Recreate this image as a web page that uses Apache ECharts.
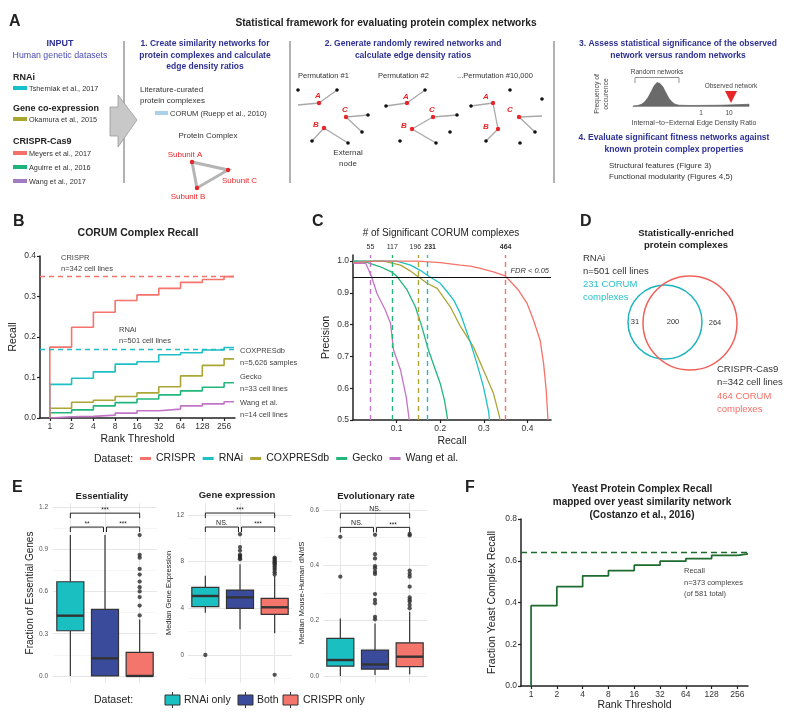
<!DOCTYPE html>
<html><head><meta charset="utf-8">
<script src="https://cdn.jsdelivr.net/npm/echarts@6/dist/echarts.min.js"></script>
<style>html,body{margin:0;padding:0;background:#fff}#c{width:800px;height:724px}</style>
</head><body><div id="c"></div>
<script>
const FF = '"Liberation Sans", Arial, Helvetica, sans-serif';

// ---------- Panel B : CORUM complex recall ----------
const datasetNames = ['CRISPR', 'RNAi', 'COXPRESdb', 'Gecko', 'Wang et al.'];
const datasetColors = ['#F4736B', '#1EBFC7', '#ABA635', '#22B57C', '#C274C6'];
const rankThresholds = [1, 2, 4, 8, 16, 32, 64, 128, 256];
const rankEnd = 350;
const recallCRISPR = [0.175, 0.224, 0.261, 0.290, 0.304, 0.320, 0.335, 0.342, 0.349];
const recallRNAi = [0.083, 0.098, 0.114, 0.133, 0.139, 0.156, 0.161, 0.168, 0.174];
const recallCOXPRES = [0.024, 0.039, 0.044, 0.053, 0.062, 0.077, 0.104, 0.130, 0.146];
const recallGecko = [0.013, 0.020, 0.030, 0.038, 0.047, 0.057, 0.067, 0.076, 0.087];
const recallWang = [0.003, 0.004, 0.007, 0.012, 0.018, 0.022, 0.030, 0.035, 0.040];
const recallAsymptote = [0.349, 0.174];
const rankTickExps = [0, 1, 2, 3, 4, 5, 6, 7, 8];

// ---------- Panel C : precision / recall ----------
const prCRISPR = [[0, 0.995], [0.05, 1.0], [0.15, 1.0], [0.2, 0.995], [0.246, 0.987], [0.269, 0.984], [0.292, 0.977], [0.322, 0.966], [0.349, 0.953], [0.365, 0.93], [0.379, 0.909], [0.399, 0.867], [0.414, 0.814], [0.429, 0.751], [0.437, 0.678], [0.443, 0.594], [0.446, 0.526], [0.447, 0.5]];
const prRNAi = [[0, 1.0], [0.1, 1.0], [0.132, 0.987], [0.155, 0.97], [0.173, 0.953], [0.2, 0.93], [0.215, 0.905], [0.231, 0.877], [0.246, 0.836], [0.269, 0.745], [0.284, 0.678], [0.299, 0.605], [0.311, 0.526], [0.313, 0.5]];
const prCOXPRES = [[0, 1.0], [0.07, 1.0], [0.109, 0.987], [0.13, 0.97], [0.147, 0.953], [0.17, 0.93], [0.193, 0.914], [0.223, 0.856], [0.246, 0.795], [0.269, 0.746], [0.276, 0.73], [0.299, 0.657], [0.322, 0.584], [0.336, 0.51], [0.337, 0.5]];
const prGecko = [[0, 1.0], [0.032, 0.996], [0.063, 0.982], [0.088, 0.966], [0.101, 0.951], [0.124, 0.909], [0.143, 0.856], [0.158, 0.793], [0.173, 0.72], [0.185, 0.673], [0.2, 0.615], [0.21, 0.56], [0.216, 0.51], [0.217, 0.5]];
const prWang = [[0, 0.993], [0.029, 0.993], [0.036, 0.972], [0.042, 0.953], [0.055, 0.898], [0.074, 0.846], [0.086, 0.804], [0.093, 0.72], [0.109, 0.657], [0.122, 0.573], [0.128, 0.51], [0.129, 0.5]];
const fdrRecall = [0.349, 0.173, 0.147, 0.088, 0.042];
const sigCounts = ['464', '231', '196', '117', '55'];
const fdrPrecision = 0.95;
const recallTicks = [0.1, 0.2, 0.3, 0.4];
const precisionTicks = [0.5, 0.6, 0.7, 0.8, 0.9, 1.0];

// ---------- Panel E : box plots ----------
const boxGroups = ['RNAi only', 'Both', 'CRISPR only'];
const boxColors = ['#1ABFC2', '#3A4B9C', '#F4756C'];
const essBox = [[0, 0.321, 0.428, 0.669, 1.0], [0, 0, 0.125, 0.473, 1.0], [0, 0, 0, 0.168, 0.40]];
const essOutliers = [[], [], [1.0, 0.86, 0.84, 0.76, 0.72, 0.67, 0.63, 0.6, 0.56, 0.5, 0.43]];
const essMajor = [0, 0.3, 0.6, 0.9, 1.2];
const essMinor = [0.15, 0.45, 0.75, 1.05];
const essBrackets = [[0, 2, 1.156], [0, 1, 1.057], [1, 2, 1.057]];
const essLabels = ['***', '**', '***'];

const exprBox = [[3.63, 4.14, 5.06, 5.80, 6.8], [2.2, 4.0, 4.94, 5.57, 7.77], [1.86, 3.49, 4.09, 4.86, 6.77]];
const exprOutliers = [[0], [10.35, 9.25, 8.95, 8.6, 8.5, 8.4, 8.3, 8.2], [8.35, 8.25, 8.15, 8.05, 7.95, 7.85, 7.75, 7.6, 7.45, 7.3, 7.1, 6.9, -1.7]];
const exprMajor = [0, 4, 8, 12];
const exprMinor = [-2, 2, 6, 10];
const exprBrackets = [[0, 2, 12.17], [0, 1, 10.97], [1, 2, 10.97]];
const exprLabels = ['***', 'NS.', '***'];

const evoBox = [[0, 0.036, 0.058, 0.136, 0.208], [0.004, 0.025, 0.042, 0.094, 0.19], [0.007, 0.034, 0.070, 0.120, 0.232]];
const evoOutliers = [[0.359, 0.503], [0.51, 0.44, 0.425, 0.397, 0.389, 0.377, 0.369, 0.296, 0.275, 0.263, 0.214, 0.205], [0.513, 0.508, 0.381, 0.369, 0.359, 0.323, 0.284, 0.276, 0.269, 0.257, 0.245]];
const evoMajor = [0, 0.2, 0.4, 0.6];
const evoMinor = [0.1, 0.3, 0.5];
const evoBrackets = [[0, 2, 0.588], [0, 1, 0.537], [1, 2, 0.537]];
const evoLabels = ['NS.', 'NS.', '***'];

// ---------- Panel F : yeast recall ----------
const yeastRanks = [1, 2, 4, 8, 16, 32, 64, 128, 256];
const yeastRecall = [0.385, 0.476, 0.528, 0.553, 0.579, 0.598, 0.610, 0.626, 0.633];
const yeastRankEnd = 340;
const yeastAsymptote = 0.635;
const yeastTicks = [0, 0.2, 0.4, 0.6, 0.8];

// ---------- Venn (panel D) ----------
const vennCounts = ['31', '200', '264'];

// ================= build =================
const chart = echarts.init(document.getElementById('c'), null, {renderer: 'canvas'});
const G = [];
function T(x, y, text, o) {
  o = o || {};
  G.push({type: 'text', x: x, y: y, z: 100, rotation: o.rot || 0, silent: true,
    style: {text: text, fill: o.color || '#222', fontSize: o.size || 8,
      fontWeight: o.bold ? 'bold' : 'normal', fontStyle: o.italic ? 'italic' : 'normal',
      fontFamily: FF, textAlign: o.align || 'left', align: o.align || 'left',
      textVerticalAlign: 'middle', verticalAlign: 'middle'}});
}
function PL(pts, stroke, w) { G.push({type: 'polyline', z: 90, silent: true, shape: {points: pts}, style: {stroke: stroke, lineWidth: w || 1, fill: 'none'}}); }
function CI(cx, cy, r, fill, stroke, w) { G.push({type: 'circle', z: 95, silent: true, shape: {cx: cx, cy: cy, r: r}, style: {fill: fill || 'none', stroke: stroke || 'none', lineWidth: w || 1}}); }
function PG(pts, fill, stroke, w) { G.push({type: 'polygon', z: 90, silent: true, shape: {points: pts}, style: {fill: fill, stroke: stroke || 'none', lineWidth: w || 1}}); }
function RC(x, y, w, h, fill, stroke) { G.push({type: 'rect', z: 95, silent: true, shape: {x: x, y: y, width: w, height: h}, style: {fill: fill, stroke: stroke || 'none', lineWidth: 1}}); }

const BLUE = '#2E3192', RED = '#E8262A';
// ---- Panel A ----
T(9, 22, 'A', {size: 16, bold: true});
T(386, 23, 'Statistical framework for evaluating protein complex networks', {size: 10.2, bold: true, align: 'center'});
[124, 290, 554].forEach(x => PL([[x, 41], [x, 183]], '#666', 1));
T(60, 44, 'INPUT', {size: 9, bold: true, color: BLUE, align: 'center'});
T(60, 56, 'Human genetic datasets', {size: 8.8, color: '#4B4BB3', align: 'center'});
T(13, 78, 'RNAi', {size: 9, bold: true});
RC(13, 86, 14, 4, '#16C0C8'); T(29, 89, 'Tsherniak et al., 2017', {size: 7.3, color: '#333'});
T(13, 109, 'Gene co-expression', {size: 9, bold: true});
RC(13, 117, 14, 4, '#A8A830'); T(29, 120, 'Okamura et al., 2015', {size: 7.3, color: '#333'});
T(13, 142, 'CRISPR-Cas9', {size: 9, bold: true});
RC(13, 151, 14, 4, '#F4706A'); T(29, 154, 'Meyers et al., 2017', {size: 7.3, color: '#333'});
RC(13, 165, 14, 4, '#1DB37A'); T(29, 168, 'Aguirre et al., 2016', {size: 7.3, color: '#333'});
RC(13, 179, 14, 4, '#A27CC2'); T(29, 182, 'Wang et al., 2017', {size: 7.3, color: '#333'});
PG([[110, 107], [118, 107], [118, 95], [137, 120], [118, 147], [118, 136], [110, 136]], '#C8C8C8', '#9A9A9A', 0.8);

T(205, 44, '1. Create similarity networks for', {size: 8.5, bold: true, color: BLUE, align: 'center'});
T(205, 56, 'protein complexes and calculate', {size: 8.5, bold: true, color: BLUE, align: 'center'});
T(205, 67, 'edge density ratios', {size: 8.5, bold: true, color: BLUE, align: 'center'});
T(140, 90, 'Literature-curated', {size: 8, color: '#333'});
T(140, 101, 'protein complexes', {size: 8, color: '#333'});
RC(155, 111, 13, 4, '#A9D1EA'); T(170, 114, 'CORUM (Ruepp et al., 2010)', {size: 7.5, color: '#333'});
T(208, 136, 'Protein Complex', {size: 8, color: '#333', align: 'center'});
PL([[192, 162], [228, 170], [197, 188], [192, 162]], '#B5B5B5', 3);
[[192, 162], [228, 170], [197, 188]].forEach(p => CI(p[0], p[1], 2.2, RED));
T(185, 155, 'Subunit A', {size: 8, color: RED, align: 'center'});
T(222, 181, 'Subunit C', {size: 8, color: RED});
T(188, 197, 'Subunit B', {size: 8, color: RED, align: 'center'});

T(413, 44, '2. Generate randomly rewired networks and', {size: 8.5, bold: true, color: BLUE, align: 'center'});
T(413, 56, 'calculate edge density ratios', {size: 8.5, bold: true, color: BLUE, align: 'center'});
T(298, 76, 'Permutation #1', {size: 7.5, color: '#333'});
T(378, 76, 'Permutation #2', {size: 7.5, color: '#333'});
T(457, 76, '...Permutation #10,000', {size: 7.5, color: '#333'});
const perms = [
  {edges: [[[298, 105], [319, 103]], [[319, 103], [337, 90]], [[346, 117], [368, 115]], [[346, 117], [362, 132]], [[324, 128], [312, 141]], [[324, 128], [348, 143]]],
   black: [[298, 90], [337, 90], [368, 115], [362, 132], [312, 141], [348, 143]],
   red: [[319, 103], [346, 117], [324, 128]], lab: [['A', 318, 96], ['C', 345, 110], ['B', 316, 125]]},
  {edges: [[[386, 106], [407, 103]], [[407, 103], [425, 90]], [[412, 129], [433, 117]], [[433, 117], [457, 115]], [[412, 129], [436, 143]]],
   black: [[386, 106], [425, 90], [457, 115], [436, 143], [450, 132], [400, 141]],
   red: [[407, 103], [433, 117], [412, 129]], lab: [['A', 406, 97], ['C', 432, 110], ['B', 404, 126]]},
  {edges: [[[471, 106], [493, 103]], [[493, 103], [498, 129]], [[498, 129], [486, 141]], [[519, 117], [542, 116]], [[519, 117], [535, 132]]],
   black: [[471, 106], [486, 141], [510, 90], [542, 99], [535, 132], [520, 143]],
   red: [[493, 103], [498, 129], [519, 117]], lab: [['A', 486, 97], ['B', 486, 127], ['C', 510, 110]]}
];
perms.forEach(pm => {
  pm.edges.forEach(e => PL(e, '#A8A8A8', 1.3));
  pm.black.forEach(p => CI(p[0], p[1], 1.8, '#111'));
  pm.red.forEach(p => CI(p[0], p[1], 2.2, RED));
  pm.lab.forEach(l => T(l[1], l[2], l[0], {size: 8, italic: true, bold: true, color: RED, align: 'center'}));
});
T(348, 153, 'External', {size: 8, color: '#333', align: 'center'});
T(348, 164, 'node', {size: 8, color: '#333', align: 'center'});

T(678, 44, '3. Assess statistical significance of the observed', {size: 8.5, bold: true, color: BLUE, align: 'center'});
T(678, 56, 'network versus random networks', {size: 8.5, bold: true, color: BLUE, align: 'center'});
T(597, 94, 'Frequency of', {size: 6.8, color: '#444', align: 'center', rot: Math.PI / 2});
T(606, 94, 'occurence', {size: 6.8, color: '#444', align: 'center', rot: Math.PI / 2});
PG([[633, 106], [638, 105.5], [642, 104], [645, 101.5], [648, 97.5], [651, 92], [654, 86], [657, 82.5], [660, 83.5], [663, 87], [666, 93], [669, 98.5], [672, 102], [675, 104.2], [679, 105.2], [690, 105.5], [720, 105.2], [740, 104.6], [749, 104.2], [749, 106.3], [633, 106.3]], '#6A6A6A', '#555', 0.6);
T(657, 72, 'Random networks', {size: 6.5, color: '#444', align: 'center'});
PL([[635, 83], [635, 77.5], [679, 77.5], [679, 83]], '#888', 0.9);
T(731, 86, 'Observed network', {size: 6.5, color: '#444', align: 'center'});
PG([[725, 91], [737, 91], [731, 103]], RED);
T(701, 113, '1', {size: 6.5, color: '#444', align: 'center'});
T(729, 113, '10', {size: 6.5, color: '#444', align: 'center'});
T(694, 123, 'Internal\u2212to\u2212External Edge Density Ratio', {size: 7, color: '#444', align: 'center'});
T(674, 138, '4. Evaluate significant fitness networks against', {size: 8.5, bold: true, color: BLUE, align: 'center'});
T(674, 150, 'known protein complex properties', {size: 8.5, bold: true, color: BLUE, align: 'center'});
T(609, 166, 'Structural features (Figure 3)', {size: 8, color: '#333'});
T(609, 177, 'Functional modularity (Figures 4,5)', {size: 8, color: '#333'});

// ---- Panel B texts ----
T(13, 222, 'B', {size: 16, bold: true});
T(138, 233, 'CORUM Complex Recall', {size: 10.5, bold: true, align: 'center'});
T(61, 258, 'CRISPR', {size: 7.5, color: '#444'}); T(61, 269, 'n=342 cell lines', {size: 7.5, color: '#444'});
T(119, 330, 'RNAi', {size: 7.5, color: '#444'}); T(119, 341, 'n=501 cell lines', {size: 7.5, color: '#444'});
T(240, 351, 'COXPRESdb', {size: 7.5, color: '#444'}); T(240, 363, 'n=5,626 samples', {size: 7.5, color: '#444'});
T(240, 377, 'Gecko', {size: 7.5, color: '#444'}); T(240, 389, 'n=33 cell lines', {size: 7.5, color: '#444'});
T(240, 403, 'Wang et al.', {size: 7.5, color: '#444'}); T(240, 415, 'n=14 cell lines', {size: 7.5, color: '#444'});
// ---- Panel C texts ----
T(312, 222, 'C', {size: 16, bold: true});
T(441, 233, '# of Significant CORUM complexes', {size: 10, color: '#222', align: 'center'});
T(94, 459, 'Dataset:', {size: 10.5, color: '#222'});
// ---- Panel D ----
T(580, 222, 'D', {size: 16, bold: true});
T(686, 233, 'Statistically-enriched', {size: 9.5, bold: true, align: 'center'});
T(686, 245, 'protein complexes', {size: 9.5, bold: true, align: 'center'});
T(583, 258, 'RNAi', {size: 9.5, color: '#333'});
T(583, 271, 'n=501 cell lines', {size: 9.5, color: '#333'});
T(583, 284, '231 CORUM', {size: 9.5, color: '#2CC0C8'});
T(583, 297, 'complexes', {size: 9.5, color: '#2CC0C8'});
CI(665, 322, 37, 'none', '#1CB5BF', 1.5);
CI(690, 323, 47, 'none', '#F0605A', 1.5);
T(635, 322, vennCounts[0], {size: 7.5, color: '#333', align: 'center'});
T(673, 322, vennCounts[1], {size: 7.5, color: '#333', align: 'center'});
T(715, 323, vennCounts[2], {size: 7.5, color: '#333', align: 'center'});
T(717, 369, 'CRISPR-Cas9', {size: 9.5, color: '#333'});
T(717, 382, 'n=342 cell lines', {size: 9.5, color: '#333'});
T(717, 396, '464 CORUM', {size: 9.5, color: '#F27068'});
T(717, 409, 'complexes', {size: 9.5, color: '#F27068'});
// ---- Panel E texts ----
T(12, 488, 'E', {size: 16, bold: true});
T(102, 496, 'Essentiality', {size: 9.5, bold: true, align: 'center'});
T(237, 495, 'Gene expression', {size: 9.5, bold: true, align: 'center'});
T(376, 496, 'Evolutionary rate', {size: 9.5, bold: true, align: 'center'});
T(94, 700, 'Dataset:', {size: 10.5, color: '#222'});
[[165, 184, 0], [238, 257, 1], [283, 303, 2]].forEach(a => {
  PL([[a[0] + 7.5, 692], [a[0] + 7.5, 708]], '#333', 1);
  RC(a[0], 695, 15, 10, boxColors[a[2]], '#333');
  PL([[a[0], 700], [a[0] + 15, 700]], '#333', 1.6);
  T(a[1], 700, boxGroups[a[2]], {size: 10.5, color: '#222'});
});
// ---- Panel F texts ----
T(465, 488, 'F', {size: 16, bold: true});
T(642, 489, 'Yeast Protein Complex Recall', {size: 10, bold: true, align: 'center'});
T(642, 502, 'mapped over yeast similarity network', {size: 10, bold: true, align: 'center'});
T(642, 515, '(Costanzo et al., 2016)', {size: 10, bold: true, align: 'center'});
T(684, 571, 'Recall', {size: 7.5, color: '#444'});
T(684, 583, 'n=373 complexes', {size: 7.5, color: '#444'});
T(684, 594, '(of 581 total)', {size: 7.5, color: '#444'});

// ================= axes =================
function classicAxis(o) {
  return {
    type: 'value', gridIndex: o.grid, min: o.min, max: o.max,
    axisLine: {show: true, onZero: false, lineStyle: {color: '#222', width: 1.5}},
    axisTick: {show: true, length: 3, lineStyle: {color: '#222', width: 1.2}, customValues: o.ticks},
    axisLabel: {color: '#333', fontSize: 8.5, fontFamily: FF, margin: 4, customValues: o.ticks, formatter: o.fmt},
    splitLine: {show: false},
    name: o.name, nameLocation: 'middle', nameGap: o.gap,
    nameTextStyle: {fontSize: o.nameSize || 10.5, color: '#222', fontFamily: FF}
  };
}
const fmt1 = v => v.toFixed(1);
const fmtRank = v => String(Math.round(Math.pow(2, v)));
function minAxis(o) {
  return {type: 'value', gridIndex: o.grid, min: o.min, max: o.max,
    axisLine: {show: false}, axisTick: {show: false}, splitLine: {show: false},
    axisLabel: {customValues: o.ticks, formatter: o.fmt, color: '#555', fontSize: 6.5, fontFamily: FF, margin: o.margin || 4},
    name: o.name, nameLocation: 'middle', nameGap: o.gap,
    nameTextStyle: {fontSize: o.nameSize, color: '#222', fontFamily: FF}};
}
function catAxis(g) {
  return {type: 'category', gridIndex: g, data: boxGroups, axisLine: {show: false}, axisTick: {show: false},
    axisLabel: {show: false}, splitLine: {show: false}};
}
const xAxis = [
  classicAxis({grid: 0, min: -0.45, max: 8.5, ticks: rankTickExps, fmt: fmtRank, name: 'Rank Threshold', gap: 16}),
  classicAxis({grid: 1, min: 0, max: 0.454, ticks: recallTicks, fmt: fmt1, name: 'Recall', gap: 16}),
  catAxis(2), catAxis(3), catAxis(4),
  classicAxis({grid: 5, min: -0.39, max: 8.41, ticks: rankTickExps, fmt: fmtRank, name: 'Rank Threshold', gap: 13})
];
const yAxis = [
  classicAxis({grid: 0, min: 0, max: 0.4, ticks: [0, 0.1, 0.2, 0.3, 0.4], fmt: fmt1, name: 'Recall', gap: 21}),
  classicAxis({grid: 1, min: 0.5, max: 1.019, ticks: precisionTicks, fmt: fmt1, name: 'Precision', gap: 21}),
  minAxis({grid: 2, min: -0.05, max: 1.228, ticks: essMajor, fmt: fmt1, name: 'Fraction of Essential Genes', gap: 18, nameSize: 10, margin: 5}),
  minAxis({grid: 3, min: -2.4, max: 13.03, ticks: exprMajor, fmt: v => String(v), name: 'Median Gene Expression', gap: 13, nameSize: 7.5}),
  minAxis({grid: 4, min: -0.025, max: 0.625, ticks: evoMajor, fmt: fmt1, name: 'Median Mouse-Human dN/dS', gap: 16, nameSize: 7.8}),
  classicAxis({grid: 5, min: 0, max: 0.8, ticks: yeastTicks, fmt: fmt1, name: 'Fraction Yeast Complex Recall', gap: 23, nameSize: 10.5})
];

// ================= series =================
const series = [];
const recallBySet = [recallCRISPR, recallRNAi, recallCOXPRES, recallGecko, recallWang];
const prBySet = [prCRISPR, prRNAi, prCOXPRES, prGecko, prWang];
const countLabelOffset = [[0, 0], [3, 0], [-3, 0], [0, 0], [0, 0]];
for (let k = datasetNames.length - 1; k >= 0; k--) {
  const vals = recallBySet[k];
  const data = [[Math.log2(rankThresholds[0]), 0]]
    .concat(rankThresholds.map((r, i) => [Math.log2(r), vals[i]]))
    .concat([[Math.log2(rankEnd), vals[vals.length - 1]]]);
  const s = {name: datasetNames[k], type: 'line', xAxisIndex: 0, yAxisIndex: 0, step: 'end', data: data,
    symbol: 'none', showSymbol: false, lineStyle: {width: 1.6, color: datasetColors[k]}, itemStyle: {color: datasetColors[k]}, z: 3};
  if (k < 2) {
    s.markLine = {silent: true, symbol: 'none', label: {show: false},
      lineStyle: {type: [5, 4], width: 1.3, color: datasetColors[k]}, data: [{yAxis: recallAsymptote[k]}]};
  }
  series.push(s);
}
for (let k = datasetNames.length - 1; k >= 0; k--) {
  const mlData = [{xAxis: fdrRecall[k]}];
  if (k === 0) {
    mlData.push({yAxis: fdrPrecision, lineStyle: {type: 'solid', color: '#111', width: 1.1},
      label: {show: true, position: 'insideEndTop', formatter: 'FDR < 0.05', fontStyle: 'italic', fontWeight: 'normal', fontSize: 7.5, color: '#333', distance: 2, offset: [0, 0]}});
  }
  series.push({name: datasetNames[k], type: 'line', xAxisIndex: 1, yAxisIndex: 1, data: prBySet[k],
    symbol: 'none', showSymbol: false, lineStyle: {width: 1.3, color: datasetColors[k]}, itemStyle: {color: datasetColors[k]}, z: 3,
    markLine: {silent: true, symbol: 'none', z: 4,
      lineStyle: {type: [5, 4], width: 1.4, color: datasetColors[k]},
      label: {show: true, position: 'end', formatter: sigCounts[k], fontSize: 7, color: '#333', fontFamily: FF,
        fontWeight: k < 2 ? 'bold' : 'normal', distance: 4, offset: countLabelOffset[k]},
      data: mlData}});
}

function boxRender(params, api) {
  const i = api.value(0);
  const lo = api.coord([i, api.value(1)]), q1 = api.coord([i, api.value(2)]), med = api.coord([i, api.value(3)]),
    q3 = api.coord([i, api.value(4)]), hi = api.coord([i, api.value(5)]);
  const w = api.size([1, 0])[0] * 0.78;
  const x = med[0];
  const st = {stroke: '#333', lineWidth: 1.2};
  return {type: 'group', children: [
    {type: 'line', shape: {x1: x, y1: hi[1], x2: x, y2: q3[1]}, style: st},
    {type: 'line', shape: {x1: x, y1: q1[1], x2: x, y2: lo[1]}, style: st},
    {type: 'rect', shape: {x: x - w / 2, y: q3[1], width: w, height: Math.max(q1[1] - q3[1], 0.5)}, style: {fill: boxColors[i], stroke: '#333', lineWidth: 1.2}},
    {type: 'line', shape: {x1: x - w / 2, y1: med[1], x2: x + w / 2, y2: med[1]}, style: {stroke: '#333', lineWidth: 2.4}}
  ]};
}
function bracketRender(labels) {
  return function (params, api) {
    const i1 = api.value(0), i2 = api.value(1), y = api.value(2);
    const a = api.coord([i1, y]), b = api.coord([i2, y]);
    const x1 = a[0] + (i1 === 1 ? 1.5 : 0), x2 = b[0] - (i2 === 1 ? 1.5 : 0);
    const lab = labels[params.dataIndex];
    return {type: 'group', children: [
      {type: 'polyline', shape: {points: [[x1, a[1] + 5], [x1, a[1]], [x2, a[1]], [x2, a[1] + 5]]}, style: {stroke: '#222', lineWidth: 1, fill: 'none'}},
      {type: 'text', x: (x1 + x2) / 2, y: a[1] - (lab === 'NS.' ? 0.5 : -1), style: {text: lab, fill: '#222', fontSize: lab === 'NS.' ? 7 : 6.5, fontFamily: FF,
        textAlign: 'center', align: 'center', textVerticalAlign: 'bottom', verticalAlign: 'bottom'}}
    ]};
  };
}
const boxPanels = [
  {box: essBox, out: essOutliers, major: essMajor, minor: essMinor, br: essBrackets, lab: essLabels},
  {box: exprBox, out: exprOutliers, major: exprMajor, minor: exprMinor, br: exprBrackets, lab: exprLabels},
  {box: evoBox, out: evoOutliers, major: evoMajor, minor: evoMinor, br: evoBrackets, lab: evoLabels}
];
boxPanels.forEach((p, j) => {
  const ax = 2 + j;
  const outData = [];
  p.out.forEach((arr, i) => arr.forEach(v => outData.push([i, v])));
  const gl = [].concat(
    p.minor.map(v => ({yAxis: v, lineStyle: {color: '#F2F2F2', width: 0.7, type: 'solid'}})),
    p.major.map(v => ({yAxis: v, lineStyle: {color: '#E6E6E6', width: 1, type: 'solid'}})),
    boxGroups.map(g => ({xAxis: g, lineStyle: {color: '#E6E6E6', width: 1, type: 'solid'}})));
  series.push({type: 'scatter', xAxisIndex: ax, yAxisIndex: ax, data: outData, symbolSize: 4.3,
    itemStyle: {color: '#2A2A2A'}, z: 4, silent: true,
    markLine: {silent: true, symbol: 'none', z: 1, label: {show: false}, data: gl}});
  series.push({type: 'custom', xAxisIndex: ax, yAxisIndex: ax, z: 3, silent: true,
    data: p.box.map((b, i) => [i].concat(b)), renderItem: boxRender, encode: {x: 0, y: [1, 2, 3, 4, 5]}});
  series.push({type: 'custom', xAxisIndex: ax, yAxisIndex: ax, z: 3, silent: true,
    data: p.br, renderItem: bracketRender(p.lab), encode: {x: [0, 1], y: 2}});
});

const yeastData = [[Math.log2(yeastRanks[0]), 0]]
  .concat(yeastRanks.map((r, i) => [Math.log2(r), yeastRecall[i]]))
  .concat([[Math.log2(yeastRankEnd), yeastRecall[yeastRecall.length - 1]]]);
series.push({type: 'line', xAxisIndex: 5, yAxisIndex: 5, step: 'end', data: yeastData, symbol: 'none',
  lineStyle: {width: 1.7, color: '#1D6B2E'}, z: 3,
  markLine: {silent: true, symbol: 'none', label: {show: false}, lineStyle: {type: [6, 4], width: 1.4, color: '#1D6B2E'}, data: [{yAxis: yeastAsymptote}]}});

chart.setOption({
  animation: false,
  backgroundColor: '#fff',
  textStyle: {fontFamily: FF},
  grid: [
    {left: 40, top: 256, width: 195, height: 162},
    {left: 353, top: 255, width: 198, height: 165},
    {left: 53, top: 503, width: 104, height: 180},
    {left: 188, top: 503, width: 104, height: 180},
    {left: 323, top: 503, width: 104, height: 180},
    {left: 521, top: 519, width: 227, height: 167}
  ],
  legend: {data: datasetNames, left: 140, top: 453, icon: 'rect', itemWidth: 11, itemHeight: 3, itemGap: 7,
    selectedMode: false, textStyle: {fontSize: 10.5, color: '#222', fontFamily: FF}, padding: 0},
  xAxis: xAxis, yAxis: yAxis, series: series,
  graphic: {elements: G}
});
</script></body></html>
